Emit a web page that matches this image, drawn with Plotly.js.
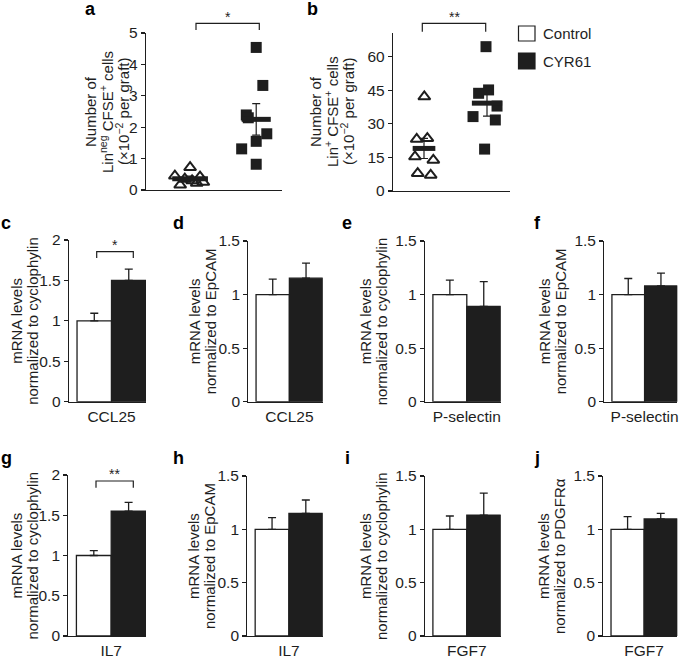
<!DOCTYPE html>
<html><head><meta charset="utf-8">
<script src="https://cdn.plot.ly/plotly-3.0.1.min.js"></script>
<style>html,body{margin:0;padding:0;background:#fff}</style>
</head><body><div id="chart" style="width:685px;height:659px"></div>
<script>
// ================= DATA =================
const groups = ['Control', 'CYR61'];

// panel a: Lin(neg) CFSE+ cells (x10^-2 per graft)
const aControl = [0.72, 0.45, 0.16, 0.30, 0.42, 0.25, 0.35, 0.22];
const aControlJitter = [0, -0.23, -0.15, 0.03, 0.15, 0.20, -0.08, 0.10];
const aCyr = [4.54, 3.33, 2.39, 2.30, 1.79, 1.55, 1.31, 0.82];
const aCyrJitter = [0, 0.10, -0.15, -0.12, 0.16, 0, -0.22, 0];
const aMean = [0.36, 2.25];
const aSem = [0.08, 0.50];

// panel b: Lin+ CFSE+ cells (x10^-2 per graft)
const bControl = [42.1, 23.1, 23.5, 15.3, 13.8, 7.9, 7.1];
const bControlJitter = [0.005, -0.116, 0.053, -0.143, 0.148, -0.10, 0.106];
const bCyr = [64.4, 43.6, 45.1, 33.2, 37.9, 31.7, 18.7];
const bCyrJitter = [-0.016, -0.133, 0.025, -0.222, 0.159, 0.132, -0.038];
const bMean = [19.0, 39.2];
const bSem = [4.5, 5.8];

// panels c-j: mRNA levels
const barLetters = ['c', 'd', 'e', 'f', 'g', 'h', 'i', 'j'];
const genes = ['CCL25', 'CCL25', 'P-selectin', 'P-selectin', 'IL7', 'IL7', 'FGF7', 'FGF7'];
const refGenes = ['cyclophylin', 'EpCAM', 'cyclophylin', 'EpCAM', 'cyclophylin', 'EpCAM', 'cyclophylin', 'PDGFRα'];
const controlMean = [1, 1, 1, 1, 1, 1, 1, 1];
const controlErr = [0.094, 0.144, 0.135, 0.15, 0.06, 0.109, 0.125, 0.12];
const cyrMean = [1.50, 1.153, 0.89, 1.08, 1.55, 1.15, 1.134, 1.097];
const cyrErr = [0.14, 0.14, 0.23, 0.12, 0.11, 0.125, 0.206, 0.053];
const yTop = [2, 1.5, 1.5, 1.5, 2, 1.5, 1.5, 1.5];

// ================= LAYOUT HELPERS =================
const W = 685, H = 659;
const PX = x => x / W;
const PY = y => 1 - y / H;
const INK = '#1e1e1e';
const FONT = 'Liberation Sans, Arial, Helvetica, sans-serif';
const TICK = 15.5, TITLE = 15;

const traces = [];
const layout = {
  width: W, height: H,
  margin: {l: 0, r: 0, t: 0, b: 0},
  paper_bgcolor: '#fff', plot_bgcolor: 'rgba(0,0,0,0)',
  showlegend: false,
  font: {family: FONT, size: TITLE, color: INK},
  shapes: [], annotations: []
};

function yAxisBase(extra) {
  return Object.assign({
    showline: true, linecolor: INK, linewidth: 1.2,
    ticks: 'outside', ticklen: 4, tickwidth: 1.2, tickcolor: INK,
    showgrid: false, zeroline: false, fixedrange: true,
    tickfont: {family: FONT, size: TICK, color: INK}
  }, extra);
}
function xAxisBase(extra) {
  return Object.assign({
    showline: true, linecolor: INK, linewidth: 1.2,
    ticks: '', showgrid: false, zeroline: false, fixedrange: true,
    tickfont: {family: FONT, size: TICK, color: INK}
  }, extra);
}
function txt(text, x, y, opts) {
  layout.annotations.push(Object.assign({
    text: text, xref: 'paper', yref: 'paper', x: PX(x), y: PY(y),
    xanchor: 'center', yanchor: 'middle', showarrow: false,
    font: {family: FONT, size: TITLE, color: INK}
  }, opts || {}));
}
function bracket(x0, x1, yTopPx, yEndPx, star, starY) {
  layout.shapes.push({
    type: 'path', xref: 'paper', yref: 'paper',
    path: `M ${PX(x0)},${PY(yEndPx)} L ${PX(x0)},${PY(yTopPx)} L ${PX(x1)},${PY(yTopPx)} L ${PX(x1)},${PY(yEndPx)}`,
    line: {color: INK, width: 1.2}
  });
  txt(star, (x0 + x1) / 2, starY, {font: {family: FONT, size: 14, color: INK}});
}

// ================= SCATTER PANELS (a, b) =================
function scatterPanel(ax, ctrl, ctrlJ, cyr, cyrJ, mean, sem, halfW) {
  const xa = 'x' + (ax === 1 ? '' : ax), ya = 'y' + (ax === 1 ? '' : ax);
  traces.push({
    type: 'scatter', mode: 'markers', xaxis: xa, yaxis: ya, cliponaxis: false,
    x: ctrlJ.map(j => 1 + j), y: ctrl,
    marker: {symbol: 'triangle-up-open', size: 10.5, color: INK, line: {color: INK, width: 2}}
  });
  traces.push({
    type: 'scatter', mode: 'markers', xaxis: xa, yaxis: ya, cliponaxis: false,
    x: cyrJ.map(j => 2 + j), y: cyr,
    marker: {symbol: 'square', size: 11, color: INK, line: {width: 0}}
  });
  mean.forEach((m, i) => {
    traces.push({
      type: 'scatter', mode: 'lines', xaxis: xa, yaxis: ya, cliponaxis: false,
      x: [i + 1 - halfW[i], i + 1 + halfW[i]], y: [m, m],
      line: {color: INK, width: 5}
    });
  });
  traces.push({
    type: 'scatter', mode: 'markers', xaxis: xa, yaxis: ya, cliponaxis: false,
    x: [1, 2], y: mean,
    marker: {size: 1, color: 'rgba(0,0,0,0)'},
    error_y: {type: 'data', array: sem, visible: true, color: INK, thickness: 1.2, width: 4}
  });
}

scatterPanel(1, aControl, aControlJitter, aCyr, aCyrJitter, aMean, aSem, [0.27, 0.22]);
layout.xaxis = xAxisBase({domain: [PX(146), PX(282)], range: [0.333, 2.39], anchor: 'y', showticklabels: false});
layout.yaxis = yAxisBase({domain: [PY(190), PY(33)], range: [0, 5], dtick: 1, tick0: 0, anchor: 'x'});

scatterPanel(2, bControl, bControlJitter, bCyr, bCyrJitter, bMean, bSem, [0.18, 0.24]);
layout.xaxis2 = xAxisBase({domain: [PX(393), PX(510)], range: [0.508, 2.365], anchor: 'y2', showticklabels: false});
layout.yaxis2 = yAxisBase({domain: [PY(191), PY(33)], range: [0, 70.5], tickvals: [0, 15, 30, 45, 60], anchor: 'x2'});

// y titles a / b
txt('Number of', 90, 112, {textangle: -90});
txt('Lin<sup>neg</sup> CFSE<sup>+</sup> cells', 106, 112, {textangle: -90});
txt('(×10<sup>−2</sup> per graft)', 122, 112, {textangle: -90});
txt('Number of', 315, 112, {textangle: -90});
txt('Lin<sup>+</sup> CFSE<sup>+</sup> cells', 331, 112, {textangle: -90});
txt('(×10<sup>−2</sup> per graft)', 347, 112, {textangle: -90});

bracket(196, 259.3, 23.3, 30, '*', 17);
bracket(422.3, 485.7, 23.3, 31.7, '**', 17);

// ================= BAR PANELS (c - j) =================
const barPos = [
  {L: 69, R: 146, top: 240, bot: 401.7, tx: [17, 33], lx: 6},
  {L: 248.3, R: 322.7, top: 241, bot: 401.7, tx: [194, 210], lx: 178},
  {L: 425, R: 500.7, top: 241, bot: 401.7, tx: [365, 381], lx: 347},
  {L: 604.3, R: 677.3, top: 241, bot: 401.7, tx: [544, 560], lx: 537},
  {L: 68.3, R: 146, top: 475, bot: 636, tx: [16, 32], lx: 6},
  {L: 247.3, R: 322.7, top: 476, bot: 636, tx: [193, 209], lx: 178},
  {L: 425, R: 500.7, top: 476, bot: 636, tx: [365, 381], lx: 347},
  {L: 603.3, R: 677.3, top: 476, bot: 636, tx: [543, 559], lx: 537}
];

barLetters.forEach((letter, i) => {
  const n = i + 3;
  const xa = 'x' + n, ya = 'y' + n;
  const p = barPos[i];
  traces.push({
    type: 'bar', xaxis: xa, yaxis: ya, x: [0], y: [controlMean[i]], width: 1,
    name: groups[0],
    marker: {color: '#ffffff', line: {color: INK, width: 1.3}},
    error_y: {type: 'data', symmetric: false, array: [controlErr[i]], arrayminus: [0],
              color: INK, thickness: 1.3, width: 4}
  });
  traces.push({
    type: 'bar', xaxis: xa, yaxis: ya, x: [1], y: [cyrMean[i]], width: 1,
    name: groups[1],
    marker: {color: INK, line: {color: INK, width: 1.3}},
    error_y: {type: 'data', symmetric: false, array: [cyrErr[i]], arrayminus: [0],
              color: INK, thickness: 1.3, width: 4}
  });
  layout['xaxis' + n] = xAxisBase({
    domain: [PX(p.L), PX(p.R)], range: [-0.733, 1.5], anchor: ya,
    tickvals: [0.5], ticktext: [genes[i]]
  });
  layout['yaxis' + n] = yAxisBase({
    domain: [PY(p.bot), PY(p.top)], range: [0, yTop[i]], dtick: 0.5, tick0: 0, anchor: xa
  });
  const cy = (p.top + p.bot) / 2;
  txt('mRNA levels', p.tx[0], cy, {textangle: -90});
  txt('normalized to ' + refGenes[i], p.tx[1], cy, {textangle: -90});
  const ly = i < 4 ? 223 : 458;
  txt('<b>' + letter + '</b>', p.lx, ly, {font: {family: FONT, size: 18, color: '#000'}});
});

bracket(96.7, 133.3, 251.7, 258, '*', 245);
bracket(96, 133.3, 481, 487.7, '**', 474);

// panel letters a, b
txt('<b>a</b>', 90, 9, {font: {family: FONT, size: 18, color: '#000'}});
txt('<b>b</b>', 312, 9, {font: {family: FONT, size: 18, color: '#000'}});

// legend
layout.shapes.push({type: 'rect', xref: 'paper', yref: 'paper',
  x0: PX(518.5), x1: PX(535), y0: PY(41), y1: PY(26),
  fillcolor: '#fff', line: {color: INK, width: 1.2}});
layout.shapes.push({type: 'rect', xref: 'paper', yref: 'paper',
  x0: PX(518.5), x1: PX(535), y0: PY(69), y1: PY(53),
  fillcolor: INK, line: {color: INK, width: 1.2}});
txt(groups[0], 541, 33.5, {xanchor: 'left', font: {family: FONT, size: 15, color: INK}});
txt(groups[1], 541, 61, {xanchor: 'left', font: {family: FONT, size: 15, color: INK}});

Plotly.newPlot('chart', traces, layout, {staticPlot: true, displayModeBar: false});
</script>
</body></html>
